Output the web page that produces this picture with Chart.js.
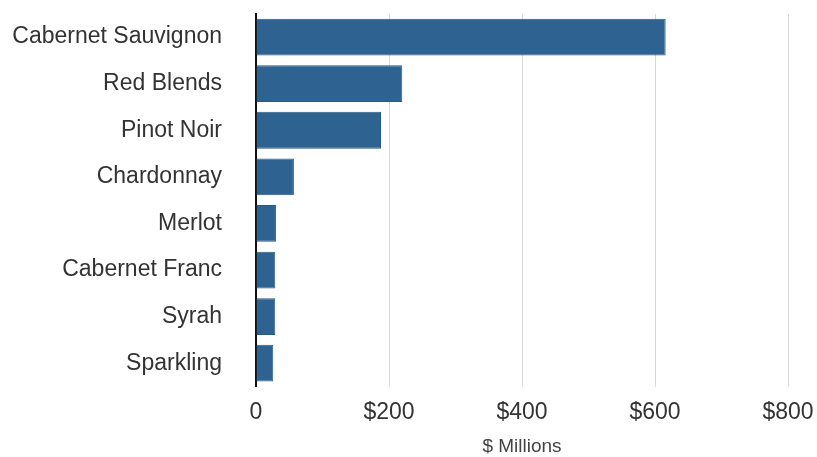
<!DOCTYPE html>
<html>
<head>
<meta charset="utf-8">
<script src="https://cdn.jsdelivr.net/npm/chart.js@4"></script>
<style>
  html, body { margin: 0; padding: 0; background: #fff; }
  #wrap { width: 817px; height: 457px; position: relative; }
</style>
</head>
<body>
<div id="wrap"><canvas id="wineChart"></canvas></div>
<script>
// Sales by varietal, $ millions
const varietals = ['Cabernet Sauvignon', 'Red Blends', 'Pinot Noir', 'Chardonnay', 'Merlot', 'Cabernet Franc', 'Syrah', 'Sparkling'];
const salesMillions = [616, 220, 188, 57, 30, 29, 29, 26];
const xTicks = [0, 200, 400, 600, 800];

document.addEventListener('DOMContentLoaded', () => {
    const ctx = document.getElementById('wineChart').getContext('2d');
    new Chart(ctx, {
        type: 'bar',
        data: {
            labels: varietals,
            datasets: [{
                data: salesMillions,
                backgroundColor: '#2e6391',
                borderColor: '#28597f',
                borderWidth: 1,
                categoryPercentage: 0.79,
                barPercentage: 1
            }]
        },
        options: {
            indexAxis: 'y',
            responsive: true,
            maintainAspectRatio: false,
            animation: false,
            layout: {
                padding: { top: 13, right: 29, bottom: 0, left: 4 }
            },
            plugins: {
                legend: { display: false },
                tooltip: { enabled: false }
            },
            scales: {
                x: {
                    min: 0,
                    max: 800,
                    afterBuildTicks: axis => {
                        axis.ticks = xTicks.map(v => ({ value: v }));
                    },
                    ticks: {
                        padding: 0,
                        color: '#333',
                        font: { family: 'Liberation Sans', size: 23 },
                        callback: v => v === 0 ? '0' : '$' + v
                    },
                    grid: {
                        color: '#d9d9d9',
                        lineWidth: 1,
                        drawTicks: true,
                        tickLength: 12,
                        tickColor: 'rgba(0,0,0,0)'
                    },
                    border: { display: false },
                    title: {
                        display: true,
                        text: '$ Millions',
                        color: '#444',
                        font: { family: 'Liberation Sans', size: 19, lineHeight: 1.1 },
                        padding: { top: 10, bottom: 0 }
                    }
                },
                y: {
                    afterFit: axis => {
                        axis.width = 252;
                    },
                    ticks: {
                        padding: 0,
                        color: '#333',
                        font: { family: 'Liberation Sans', size: 23 }
                    },
                    grid: { display: false, drawTicks: true, tickLength: 34 },
                    border: { display: true, color: '#111', width: 2 }
                }
            }
        }
    });
});
</script>
</body>
</html>
